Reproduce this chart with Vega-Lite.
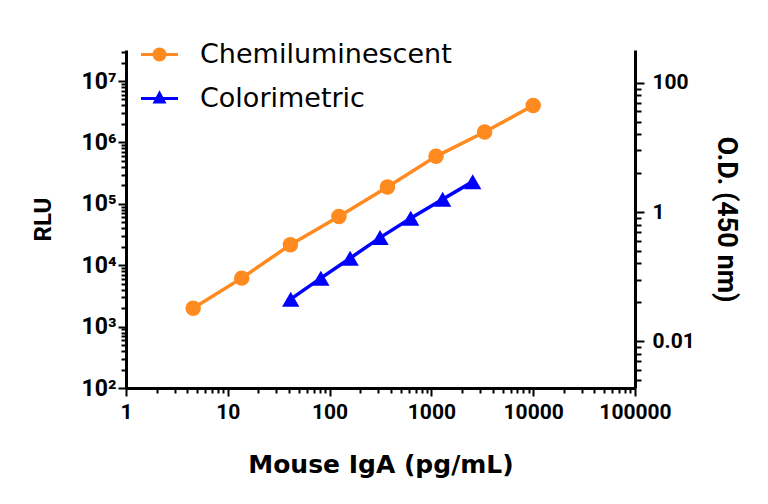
{
  "$schema": "https://vega.github.io/schema/vega-lite/v6.json",
  "width": 509,
  "height": 338,
  "autosize": {"type": "none"},
  "padding": {"left": 126, "top": 50, "right": 133, "bottom": 116},
  "background": "white",
  "datasets": {
    "chemi": [
      {"series": "Chemiluminescent", "conc": 4.57, "rlu": 1995},
      {"series": "Chemiluminescent", "conc": 13.7, "rlu": 6160},
      {"series": "Chemiluminescent", "conc": 41.2, "rlu": 21500},
      {"series": "Chemiluminescent", "conc": 123.5, "rlu": 62300},
      {"series": "Chemiluminescent", "conc": 370, "rlu": 188000},
      {"series": "Chemiluminescent", "conc": 1111, "rlu": 593000},
      {"series": "Chemiluminescent", "conc": 3333, "rlu": 1480000},
      {"series": "Chemiluminescent", "conc": 10000, "rlu": 3980000}
    ],
    "colori": [
      {"series": "Colorimetric", "conc": 41.5, "od": 0.0449},
      {"series": "Colorimetric", "conc": 82, "od": 0.0948},
      {"series": "Colorimetric", "conc": 159, "od": 0.193},
      {"series": "Colorimetric", "conc": 313, "od": 0.402},
      {"series": "Colorimetric", "conc": 626, "od": 0.802},
      {"series": "Colorimetric", "conc": 1290, "od": 1.58},
      {"series": "Colorimetric", "conc": 2545, "od": 2.95}
    ]
  },
  "layer": [
    {
      "data": {"name": "chemi"},
      "encoding": {
        "x": {
          "field": "conc", "type": "quantitative",
          "scale": {"type": "log", "domain": [1, 100000], "nice": false},
          "axis": {
            "title": "Mouse IgA (pg/mL)",
            "titleFont": "DejaVu Sans", "titleFontSize": 25, "titlePadding": 30,
            "values": [1,2,3,4,5,6,7,8,9,10,20,30,40,50,60,70,80,90,100,200,300,400,500,600,700,800,900,1000,2000,3000,4000,5000,6000,7000,8000,9000,10000,20000,30000,40000,50000,60000,70000,80000,90000,100000],
            "labelExpr": "indexof([1,10,100,1000,10000,100000], datum.value) >= 0 ? format(datum.value, 'd') : ''",
            "tickSize": {"condition": {"test": "indexof([1,10,100,1000,10000,100000], datum.value) >= 0", "value": 8}, "value": 5},
            "labelPadding": 5, "labelFontSize": 21, "labelFlush": false, "labelOverlap": false, "labelBound": false
          }
        },
        "y": {
          "field": "rlu", "type": "quantitative",
          "scale": {"type": "log", "domain": [100, 32000000], "nice": false},
          "axis": {
            "orient": "left",
            "title": "RLU", "titleFontSize": 24, "titlePadding": 26,
            "values": [100,200,300,400,500,600,700,800,900,1000,2000,3000,4000,5000,6000,7000,8000,9000,10000,20000,30000,40000,50000,60000,70000,80000,90000,100000,200000,300000,400000,500000,600000,700000,800000,900000,1000000,2000000,3000000,4000000,5000000,6000000,7000000,8000000,9000000,10000000,20000000,30000000],
            "labelExpr": "datum.value == 100 ? '10²' : datum.value == 1000 ? '10³' : datum.value == 10000 ? '10⁴' : datum.value == 100000 ? '10⁵' : datum.value == 1000000 ? '10⁶' : datum.value == 10000000 ? '10⁷' : ''",
            "labelFontSize": 23,
            "tickSize": {"condition": {"test": "indexof([100,1000,10000,100000,1000000,10000000], datum.value) >= 0", "value": 8}, "value": 5},
            "labelPadding": 2, "labelOverlap": false, "labelBound": false, "labelFlush": false
          }
        },
        "color": {
          "field": "series", "type": "nominal",
          "scale": {"domain": ["Chemiluminescent", "Colorimetric"], "range": ["#FF8A1F", "#0000FF"]},
          "legend": {
            "title": null, "orient": "none", "legendX": 20, "legendY": -9,
            "labelFont": "DejaVu Sans", "labelFontSize": 27, "labelColor": "black", "labelLimit": 0,
            "symbolSize": 400, "symbolStrokeWidth": 3, "labelOffset": 27, "rowPadding": 16, "padding": 0,
            "encode": {
              "symbols": {
                "update": {
                  "shape": {"signal": "datum.value === 'Chemiluminescent' ? 'M-1.85,0H1.85M0.55,0A0.55,0.55,0,1,1,-0.55,0A0.55,0.55,0,1,1,0.55,0Z' : 'M-1.85,0H1.85M0,-0.5L0.45,0.35L-0.45,0.35Z'"},
                  "fill": {"signal": "datum.value === 'Chemiluminescent' ? '#FF8A1F' : '#0000FF'"},
                  "stroke": {"signal": "datum.value === 'Chemiluminescent' ? '#FF8A1F' : '#0000FF'"},
                  "strokeWidth": {"value": 3},
                  "opacity": {"value": 1},
                  "fillOpacity": {"value": 1}
                }
              }
            }
          }
        }
      },
      "layer": [
        {"mark": {"type": "line", "strokeWidth": 3.5}},
        {"mark": {"type": "point", "filled": true, "shape": "circle", "size": 240, "opacity": 1}}
      ]
    },
    {
      "data": {"name": "colori"},
      "encoding": {
        "x": {"field": "conc", "type": "quantitative"},
        "y": {
          "field": "od", "type": "quantitative",
          "scale": {"type": "log", "domain": [0.0019, 320], "nice": false},
          "axis": {
            "orient": "right",
            "title": "O.D. (450 nm)", "titleFontSize": 27, "titlePadding": 17,
            "values": [0.0025,0.0036,0.0049,0.0064,0.0081,0.01,0.04,0.09,0.16,0.25,0.36,0.49,0.64,0.81,1,4,9,16,25,36,49,64,81,100],
            "labelExpr": "datum.value == 0.01 ? '0.01' : datum.value == 1 ? '1' : datum.value == 100 ? '100' : ''",
            "labelFontSize": 21,
            "tickSize": {"condition": {"test": "indexof([0.01,1,100], datum.value) >= 0", "value": 9}, "value": 6},
            "labelPadding": 8, "labelOverlap": false, "labelBound": false, "labelFlush": false
          }
        },
        "color": {"field": "series", "type": "nominal"}
      },
      "layer": [
        {"mark": {"type": "line", "strokeWidth": 3.5}},
        {"mark": {"type": "point", "filled": true, "shape": "triangle-up", "size": 300, "opacity": 1}}
      ]
    }
  ],
  "resolve": {"scale": {"y": "independent"}, "axis": {"y": "independent"}},
  "config": {
    "view": {"stroke": null},
    "axis": {
      "grid": false,
      "domainColor": "black", "domainWidth": 3,
      "tickColor": "black", "tickWidth": 2,
      "labelColor": "black", "titleColor": "black",
      "labelFont": "Roboto", "labelFontWeight": "bold", "labelFontSize": 20,
      "titleFont": "Roboto", "titleFontWeight": "bold"
    }
  }
}
